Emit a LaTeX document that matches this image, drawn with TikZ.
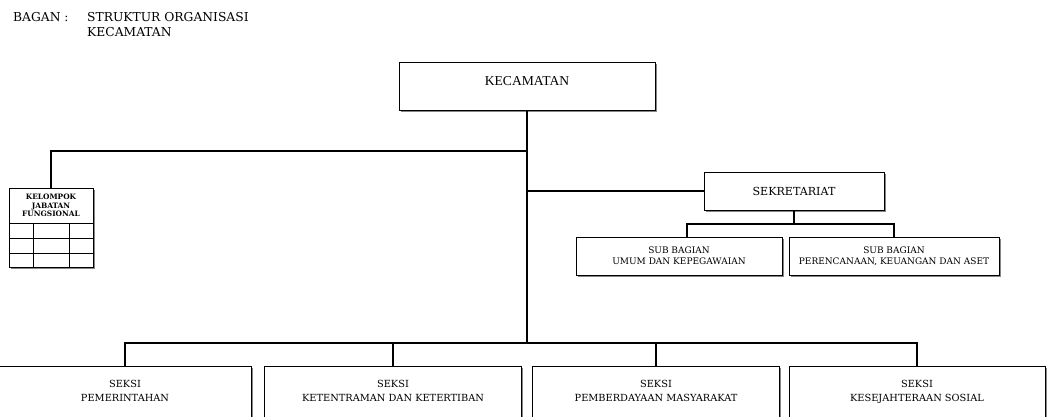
\documentclass[tikz,border=0pt]{standalone}
\usepackage{fontspec}
\setmainfont{Liberation Serif}
\newfontfamily\bookfont{DejaVu Serif}
\usetikzlibrary{shadows}

\begin{document}
\begin{tikzpicture}[
        x=1pt, y=-1pt,
        bayang/.style={drop shadow={shadow xshift=1.6pt, shadow yshift=-1.6pt, fill=black!60, opacity=.8}},
        kotak/.style={draw, fill=white, line width=0.8pt, outer sep=0pt, align=center, inner xsep=2pt, bayang},
        garis/.style={line width=2pt},
        tipis/.style={line width=0.8pt},
        judul/.style={anchor=base west, inner sep=0pt, font=\bookfont\fontsize{12.3}{15}\selectfont},
        pimpinan/.style={kotak, anchor=north, minimum width=256pt, inner ysep=15pt, text height=9pt, text depth=9pt, font=\fontsize{13.6}{16}\selectfont},
        sekre/.style={kotak, minimum width=180pt, minimum height=38pt, font=\bookfont\fontsize{11.1}{13}\selectfont},
        subbag/.style={kotak, minimum height=38pt, font=\bookfont\fontsize{9}{11}\selectfont},
        seksi/.style={kotak, anchor=north, inner ysep=14pt, text depth=60pt, font=\bookfont\fontsize{9.8}{14}\selectfont},
        fungsional/.style={kotak, anchor=north, minimum width=84pt, minimum height=35pt, inner xsep=1pt, font=\bookfont\bfseries\fontsize{7.4}{8.6}\selectfont},
    ]
    \path[use as bounding box, clip] (0,0) rectangle (1047,417);

    % judul bagan
    \node[judul] (bagan) at (13,22) {BAGAN :};
    \node[judul] (judul1) at (87,22) {STRUKTUR ORGANISASI};
    \node[judul] (judul2) at (87,37) {KECAMATAN};

    % kotak-kotak
    \node[pimpinan] (kec) at (527,62) {KECAMATAN};
    \node[sekre] (sek) at (794,191) {SEKRETARIAT};
    \node[subbag, minimum width=206pt] (sub1) at (679,256) {SUB BAGIAN\\UMUM DAN KEPEGAWAIAN};
    \node[subbag, minimum width=210pt] (sub2) at (894,256) {SUB BAGIAN\\PERENCANAAN, KEUANGAN DAN ASET};
    \node[fungsional] (kjf) at (51,188) {KELOMPOK\\JABATAN\\FUNGSIONAL};
    \draw[tipis, fill=white, bayang] (kjf.south west) rectangle ++(84,44);
    \foreach \y in {15,30}
        \draw[tipis] ([yshift=-\y pt]kjf.south west) -- ++(84,0);
    \foreach \x in {24,60}
        \draw[tipis] ([xshift=\x pt]kjf.south west) -- ++(0,44);
    \node[seksi, minimum width=252pt] (s1) at (125,366) {SEKSI\\PEMERINTAHAN};
    \node[seksi, minimum width=257pt] (s2) at (393,366) {SEKSI\\KETENTRAMAN DAN KETERTIBAN};
    \node[seksi, minimum width=247pt] (s3) at (656,366) {SEKSI\\PEMBERDAYAAN MASYARAKAT};
    \node[seksi, minimum width=256pt] (s4) at (917,366) {SEKSI\\KESEJAHTERAAN SOSIAL};

    % garis
    \coordinate (simpul1) at (527,151);
    \coordinate (bus) at (527,343);
    \draw[garis] (kec.south) -- (bus);
    \draw[garis] (simpul1) -| (kjf.north);
    \draw[garis] (kec.south |- sek.west) -- (sek.west);
    \draw[garis] (sek.south) -- ++(0,14) coordinate (simpul2);
    \draw[garis] ([xshift=8pt]sub1.north) |- (simpul2) -| (sub2.north);
    \draw[garis] (s1.north) |- (bus) -| (s4.north);
    \draw[garis] (s2.north) -- (s2.north |- bus);
    \draw[garis] (s3.north) -- (s3.north |- bus);
\end{tikzpicture}
\end{document}
